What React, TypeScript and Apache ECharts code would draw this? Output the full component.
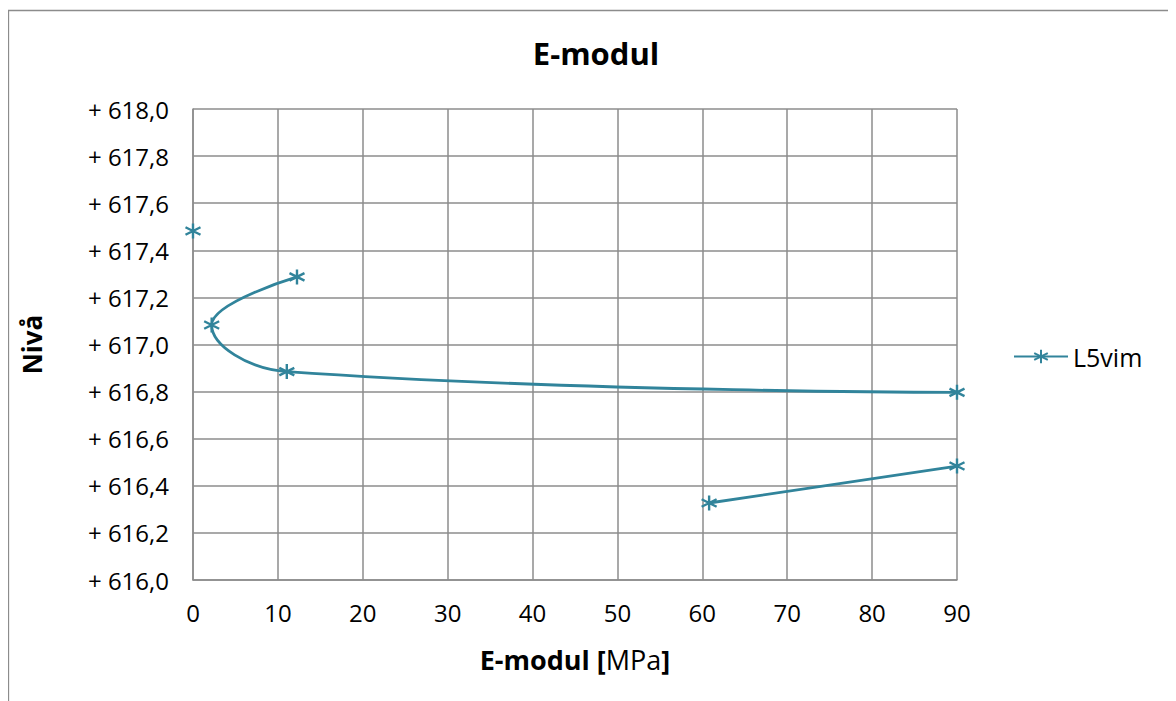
import React, { useEffect, useRef } from "react";
import * as echarts from "echarts";

const seriesName = "L5vim";
// E-modul [MPa] (null = gap in the line)
const emodul: (number | null)[] = [0, null, 12.25, 2.2, 11.05, 90, null, 60.8, 90];
// Nivå
const niva: (number | null)[] = [617.482, null, 617.287, 617.083, 616.885, 616.797, null, 616.327, 616.484];

const xTicks = { min: 0, max: 90, interval: 10 };
const yTicks = { min: 616, max: 618, interval: 0.2 };

const LINE = "#31849B";
const FONT = "'Open Sans', 'Noto Sans', sans-serif";
const ASTERISK = "path://M5,0L5,10M0.7,2.5L9.3,7.5M0.7,7.5L9.3,2.5";

export default function App() {
  const ref = useRef<HTMLDivElement>(null);
  useEffect(() => {
    if (!ref.current) return;
    const chart = echarts.init(ref.current, undefined, { renderer: "svg" });
    const data = emodul.map((x, i) =>
      x === null || niva[i] === null ? "-" : [x, niva[i] as number]
    );
    chart.setOption({
      animation: false,
      textStyle: { fontFamily: FONT },
      title: {
        text: "E-modul",
        left: 583,
        textAlign: "center",
        top: 24,
        textStyle: { fontFamily: FONT, fontSize: 31, fontWeight: "bold", color: "#000" },
      },
      graphic: [
        {
          type: "rect",
          shape: { x: 0.5, y: 2.5, width: 1165, height: 760 },
          style: { fill: "none", stroke: "#8c8c8c", lineWidth: 1.3 },
          silent: true,
        },
      ],
      legend: {
        left: 1000,
        top: 331,
        orient: "vertical",
        itemWidth: 54,
        itemHeight: 17,
        itemGap: 5,
        textStyle: { fontFamily: FONT, fontSize: 25, color: "#000" },
        data: [{ name: seriesName }],
      },
      grid: { left: 185, top: 101, right: 219, bottom: 121, containLabel: false },
      xAxis: {
        type: "value",
        min: xTicks.min,
        max: xTicks.max,
        interval: xTicks.interval,
        name: "{b|E-modul [}{n|MPa}{b|]}",
        nameLocation: "middle",
        nameGap: 66,
        nameTextStyle: {
          rich: {
            b: { fontFamily: FONT, fontSize: 27, fontWeight: "bold", color: "#000" },
            n: { fontFamily: FONT, fontSize: 27, fontWeight: "normal", color: "#000" },
          },
        },
        axisLine: { show: true, lineStyle: { color: "#8c8c8c", width: 1.5 } },
        axisTick: { show: false },
        axisLabel: { fontFamily: FONT, fontSize: 24, color: "#000", margin: 20 },
        splitLine: { show: true, lineStyle: { color: "#8c8c8c", width: 1.5 } },
      },
      yAxis: {
        type: "value",
        min: yTicks.min,
        max: yTicks.max,
        interval: yTicks.interval,
        name: "Nivå",
        nameLocation: "middle",
        nameGap: 148,
        nameTextStyle: { fontFamily: FONT, fontSize: 26, fontWeight: "bold", color: "#000" },
        axisLine: { show: true, lineStyle: { color: "#8c8c8c", width: 1.5 } },
        axisTick: { show: false },
        axisLabel: {
          fontFamily: FONT,
          fontSize: 24,
          color: "#000",
          margin: 24,
          formatter: (v: number) => "+ " + v.toFixed(1).replace(".", ","),
        },
        splitLine: { show: true, lineStyle: { color: "#8c8c8c", width: 1.5 } },
      },
      series: [
        {
          name: seriesName,
          type: "line",
          data,
          smooth: 0.45,
          connectNulls: false,
          symbol: ASTERISK,
          symbolSize: 15,
          showAllSymbol: true,
          lineStyle: { color: LINE, width: 2.8 },
          itemStyle: { color: LINE, borderColor: LINE, borderWidth: 2.4 },
        },
      ],
    });
    return () => chart.dispose();
  }, []);
  return <div ref={ref} style={{ width: 1168, height: 693 }} />;
}
